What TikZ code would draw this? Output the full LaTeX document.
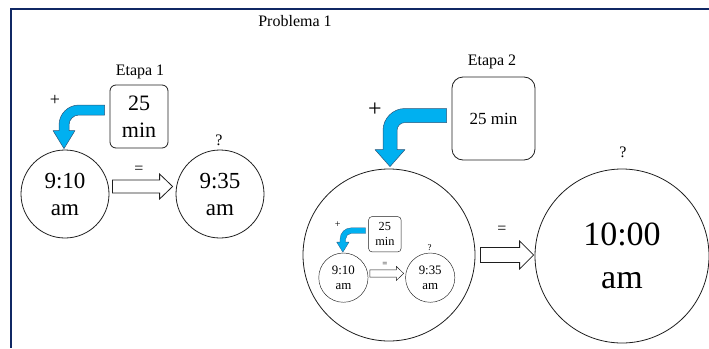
\documentclass[tikz,border=0pt]{standalone}
\usepackage{fontspec}
\setmainfont{Liberation Serif}
\usetikzlibrary{calc}
\definecolor{framecolor}{RGB}{16,40,100}
\definecolor{arrowblue}{RGB}{0,176,240}
\definecolor{arrowedge}{RGB}{45,85,120}
\definecolor{inkcolor}{RGB}{30,30,30}
\tikzset{
  frameln/.style={line width=2pt, framecolor},
  clockcirc/.style={circle, draw=inkcolor, line width=0.8pt, inner sep=0pt,
    minimum size=88pt, align=center, font=\fontsize{23}{27}\selectfont},
  minbox/.style={draw=inkcolor, line width=0.8pt, rounded corners=6pt, inner sep=0pt,
    minimum width=58pt, minimum height=63pt, align=center, font=\fontsize{22}{27}\selectfont},
  notetext/.style={inner sep=1pt, font=\fontsize{16}{18}\selectfont},
  plussign/.style={inner sep=1pt, font=\fontsize{18}{20}\selectfont},
  bentfill/.style={fill=arrowblue, draw=arrowedge, line width=0.5pt, line join=round},
  hollowarrow/.style={fill=white, draw=inkcolor, line width=0.8pt, line join=miter},
}
% bent block arrow: shaft end, tip, shaft width, outer radius, head half width, head length
\newcommand{\bentarrow}[6]{%
  \filldraw[bentfill] let \p1=#1, \p2=#2 in
    (\x1,\y1+#3/2) -- (\x2-#3/2+#4,\y1+#3/2)
    arc[start angle=90, end angle=180, radius=#4pt]
    -- (\x2-#3/2,\y2+#6) -- (\x2-#5,\y2+#6) -- (\x2,\y2)
    -- (\x2+#5,\y2+#6) -- (\x2+#3/2,\y2+#6)
    -- (\x2+#3/2,\y1+#3/2-#4)
    arc[start angle=180, end angle=90, radius={(#4-#3)*1pt}]
    -- (\x1,\y1-#3/2) -- cycle;}
% straight hollow arrow: start, tip, shaft half height, head half height, head length
\newcommand{\blockarrow}[5]{%
  \filldraw[hollowarrow] let \p1=#1, \p2=#2 in
    (\x1,\y1+#3) -- (\x2-#5,\y1+#3) -- (\x2-#5,\y1+#4) -- (\x2,\y1)
    -- (\x2-#5,\y1-#4) -- (\x2-#5,\y1-#3) -- (\x1,\y1-#3) -- cycle;}
% first step: 9:10 am + 25 min = 9:35 am
\newcommand{\stageone}[1]{%
  \node[plussign] (#1-plus) at (55,100) {+};
  \node[minbox] (#1-box) at (139,116.5) {25\\min};
  \node[clockcirc] (#1-c1) at (65,194) {9:10\\am};
  \node[clockcirc] (#1-c2) at (220,194) {9:35\\am};
  \node[notetext] (#1-ask) at (219,140) {?};
  \node[notetext] (#1-eq) at (139,170) {=};
  \bentarrow{($(#1-box.west)+(-5,-6.5)$)}{($(#1-c1.north)+(-1,-1)$)}{10}{20}{11}{18}
  \blockarrow{($(#1-c1.east)+(3,-7.5)$)}{($(#1-c2.west)+(-3,-7.5)$)}{6.5}{12.5}{13}
}

\begin{document}
\begin{tikzpicture}[x=1pt, y=-1pt]
  \useasboundingbox (0,0) rectangle (709,348);
  % frame
  \draw[frameln] (709,8.5) -- (11,8.5) -- (11,348);
  \node[notetext] (title) at (295,21) {Problema 1};
  % step 1
  \node[notetext] (etapa1) at (140,72) {Etapa 1};
  \stageone{s}
  % step 2
  \node[notetext] (etapa2) at (492,62) {Etapa 2};
  \node[minbox, minimum width=83pt, minimum height=83pt, rounded corners=11pt,
    font=\fontsize{17}{20}\selectfont] (box2) at (493.5,118.5) {25 min};
  \node[plussign, font=\fontsize{24}{26}\selectfont] (plus2) at (375,110) {+};
  \node[clockcirc, minimum size=172pt] (big) at (389,255) {};
  % step 1 again, small, inside the big circle
  \begin{scope}[transform canvas={shift={(307,169)}, scale=0.56}]
    \stageone{m}
  \end{scope}
  \node[clockcirc, minimum size=174pt, font=\fontsize{34}{43}\selectfont] (res) at (622,256) {10:00\\am};
  \node[notetext] (ask2) at (623,152) {?};
  \node[notetext] (eq2) at (502,230) {=};
  \bentarrow{($(box2.west)+(-5,-3)$)}{($(big.north)+(1,-2)$)}{14}{22}{15}{17}
  \blockarrow{($(big.east)+(5,0)$)}{($(res.west)+(-1,0)$)}{7.5}{14}{14}
\end{tikzpicture}
\end{document}
